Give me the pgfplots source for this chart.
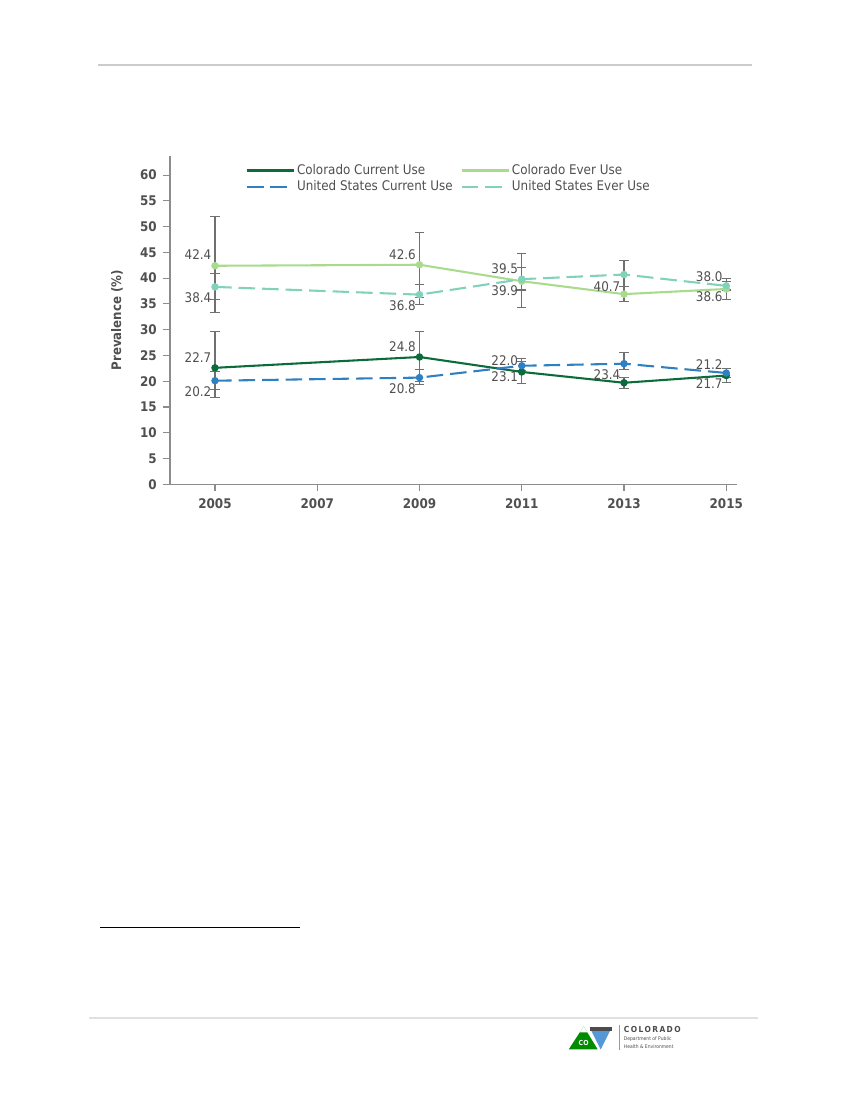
\documentclass[border=0pt]{standalone}
\usepackage{fontspec}
\setmainfont{DejaVu Sans Condensed}
\usepackage{pgfplots}
\pgfplotsset{compat=1.18}
\usepackage{pgfplotstable}

\definecolor{cocur}{HTML}{0B6B3A}
\definecolor{coever}{HTML}{A8DC8C}
\definecolor{uscur}{HTML}{2F80C2}
\definecolor{usever}{HTML}{80D2BA}
\definecolor{txt}{HTML}{505050}
\definecolor{axgray}{HTML}{8C8C8C}
\definecolor{bargray}{HTML}{707070}

% year, value, CI plus, CI minus
\pgfplotstableread{
x y ep em
2005 22.6 7.0 5.7
2009 24.7 4.9 4.7
2011 21.8 2.7 2.3
2013 19.7 1.1 1.1
2015 21.1 1.4 1.4
}\cocurrent
\pgfplotstableread{
x y ep em
2005 42.4 9.5 9.0
2009 42.6 6.3 6.3
2011 39.4 5.4 5.1
2013 36.9 1.4 1.5
2015 37.9 2.1 2.0
}\coeveruse
\pgfplotstableread{
x y ep em
2005 20.1 1.8 1.7
2009 20.7 1.5 1.4
2011 23.0 0.9 1.0
2013 23.4 2.1 1.1
2015 21.6 0.9 0.9
}\uscurrent
\pgfplotstableread{
x y ep em
2005 38.3 2.6 2.5
2009 36.8 1.9 2.0
2011 39.8 2.3 2.1
2013 40.7 2.7 2.4
2015 38.5 0.8 0.8
}\useveruse

\begin{document}
\begin{tikzpicture}
\path[use as bounding box, fill=white] (0,0) rectangle (8.5in,-11in);

% page furniture
\draw[color=black!20, line width=0.8pt] (0.98in,-0.65in) -- (7.52in,-0.65in);
\draw[color=black, line width=0.7pt] (1.00in,-9.27in) -- (3.00in,-9.27in);
\draw[color=black!12, line width=0.8pt] (0.89in,-10.18in) -- (7.58in,-10.18in);

% logo
\begin{scope}[x=0.01in, y=-0.01in]
\fill[green!55!black] (569,1050) -- (584,1027) -- (598,1050) -- cycle;
\fill[white] (580,1033) -- (584,1027) -- (588,1033) -- cycle;
\node[white, font=\fontsize{5}{5}\selectfont\bfseries] at (584,1044) {CO};
\fill[cyan!60!blue!70] (590,1028) -- (612,1028) -- (601,1050) -- cycle;
\fill[black!70] (590,1028) rectangle (612,1032);
\draw[black!40, line width=0.4pt] (620,1026) -- (620,1051);
\node[anchor=west, text=black!70, inner sep=0pt, font=\fontsize{6}{6}\selectfont\bfseries] at (624,1030) {C\,O\,L\,O\,R\,A\,D\,O};
\node[anchor=west, text=black!70, inner sep=0pt, font=\fontsize{3.6}{3.6}\selectfont] at (624,1040) {Department of Public};
\node[anchor=west, text=black!70, inner sep=0pt, font=\fontsize{3.6}{3.6}\selectfont] at (624,1047) {Health \& Environment};
\end{scope}

\begin{axis}[
    at={(1.70in,-4.843in)}, anchor=south west,
    scale only axis,
    width=5.67in, height=3.283in,
    xmin=2004.12, xmax=2015.21,
    ymin=0, ymax=63.7,
    xtick={2005,2007,...,2015},
    ytick={0,5,...,60},
    axis lines=left,
    axis line style={draw=axgray, line width=1pt, -},
    tick style={draw=axgray, line width=0.8pt},
    tick align=outside,
    major tick length=0.07in,
    x tick label style={/pgf/number format/1000 sep={}},
    tick label style={text=txt, font=\fontsize{9.6}{10}\selectfont\bfseries},
    /pgf/number format/assume math mode=true,
    yticklabel style={xshift=-1pt},
    xticklabel style={yshift=-2pt},
    ylabel={Prevalence (\%)},
    ylabel style={at={(axis description cs:-0.0935,0.5)}, anchor=center, text=txt, font=\fontsize{9.5}{10}\selectfont\bfseries},
    clip=false,
    legend columns=2,
    legend cell align=left,
    legend style={draw=none, fill=none, anchor=north west,
        at={(axis description cs:0.126,0.99)},
        font=\fontsize{9.6}{11}\selectfont, text=txt,
        row sep=0pt,
        nodes={inner sep=1.5pt},
        /tikz/every even column/.append style={column sep=0.06in}},
    legend image code/.code={\draw[#1] (0in,0in) -- (0.47in,0in);},
]

% confidence intervals first, lines drawn over them
\pgfplotsset{ci/.style={draw=none, mark=none, forget plot,
    error bars/y dir=both, error bars/y explicit, error bars/error mark=|,
    error bars/error bar style={draw=bargray, line width=0.75pt, solid},
    error bars/error mark options={draw=bargray, mark size=3.4pt, line width=0.75pt, solid}}}
\addplot[ci] table[x=x, y=y, y error plus=ep, y error minus=em] {\coeveruse};
\addplot[ci] table[x=x, y=y, y error plus=ep, y error minus=em] {\useveruse};
\addplot[ci] table[x=x, y=y, y error plus=ep, y error minus=em] {\cocurrent};
\addplot[ci] table[x=x, y=y, y error plus=ep, y error minus=em] {\uscurrent};

\addplot[cocur, line width=1.5pt, mark=*, mark size=1.9pt] table[x=x, y=y] {\cocurrent};
\addlegendentry{Colorado Current Use}
\addplot[coever, line width=1.5pt, mark=*, mark size=1.9pt] table[x=x, y=y] {\coeveruse};
\addlegendentry{Colorado Ever Use}
\addplot[uscur, line width=1.5pt, dash pattern=on 12pt off 5pt, mark=*, mark size=1.9pt, mark options={solid}] table[x=x, y=y] {\uscurrent};
\addlegendentry{United States Current Use}
\addplot[usever, line width=1.5pt, dash pattern=on 12pt off 5pt, mark=*, mark size=1.9pt, mark options={solid}] table[x=x, y=y] {\useveruse};
\addlegendentry{United States Ever Use}

% value labels as printed on the chart
\begin{scope}[every node/.style={anchor=east, text=txt, inner sep=0pt, xshift=-2.5pt, font=\fontsize{9.6}{11}\selectfont}]
\node at (axis cs:2005,44.5) {42.4};
\node at (axis cs:2005,36.2) {38.4};
\node at (axis cs:2005,24.6) {22.7};
\node at (axis cs:2005,18.0) {20.2};
\node at (axis cs:2009,44.6) {42.6};
\node at (axis cs:2009,34.6) {36.8};
\node at (axis cs:2009,26.7) {24.8};
\node at (axis cs:2009,18.5) {20.8};
\node at (axis cs:2011,41.8) {39.5};
\node at (axis cs:2011,37.6) {39.9};
\node at (axis cs:2011,24.0) {22.0};
\node at (axis cs:2011,20.8) {23.1};
\node at (axis cs:2013,38.3) {40.7};
\node at (axis cs:2013,21.2) {23.4};
\node at (axis cs:2015,40.2) {38.0};
\node at (axis cs:2015,36.4) {38.6};
\node at (axis cs:2015,23.3) {21.2};
\node at (axis cs:2015,19.6) {21.7};
\end{scope}
\end{axis}
\end{tikzpicture}
\end{document}
